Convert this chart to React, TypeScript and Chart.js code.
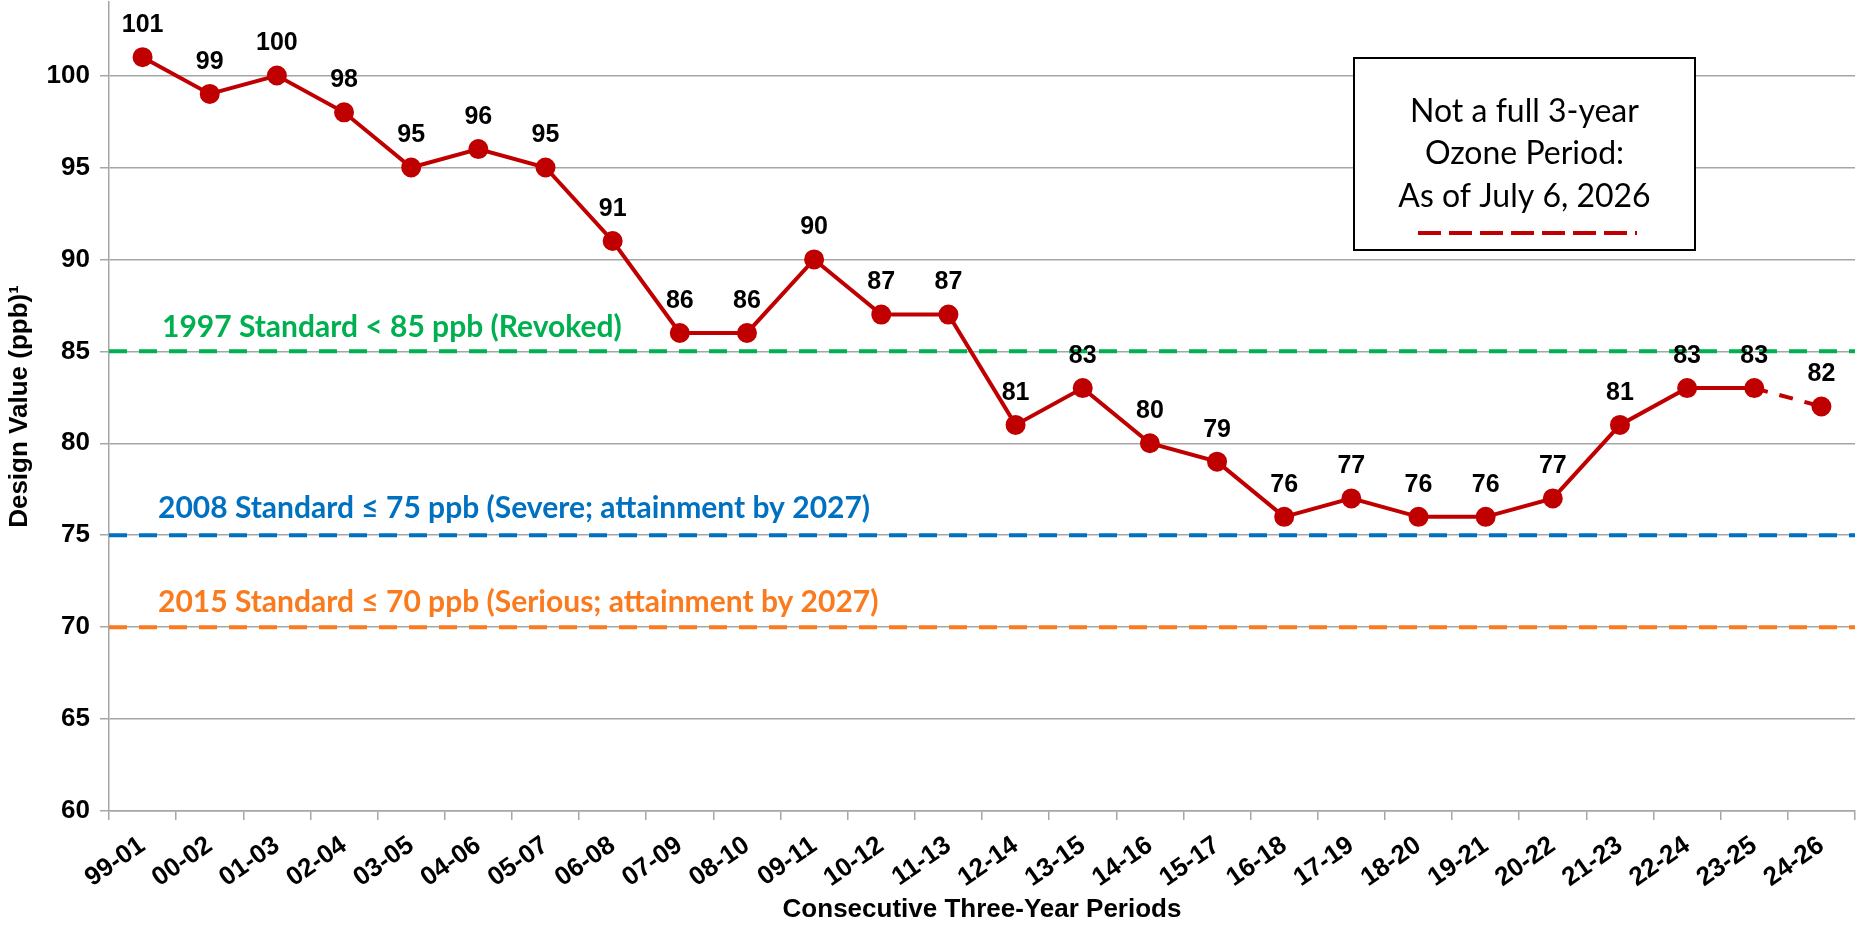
import React, { useEffect, useRef } from 'react';
import { Chart, registerables } from 'chart.js';

Chart.register(...registerables);

const periods = [
  '99-01', '00-02', '01-03', '02-04', '03-05', '04-06', '05-07', '06-08', '07-09', '08-10',
  '09-11', '10-12', '11-13', '12-14', '13-15', '14-16', '15-17', '16-18', '17-19', '18-20',
  '19-21', '20-22', '21-23', '22-24', '23-25', '24-26',
];
const designValues = [
  101, 99, 100, 98, 95, 96, 95, 91, 86, 86,
  90, 87, 87, 81, 83, 80, 79, 76, 77, 76,
  76, 77, 81, 83, 83, 82,
];
const yTickValues = [60, 65, 70, 75, 80, 85, 90, 95, 100];
const standardValues = [85, 75, 70];
const standardLabels = [
  '1997 Standard < 85 ppb (Revoked)',
  '2008 Standard \u2264 75 ppb (Severe; attainment by 2027)',
  '2015 Standard \u2264 70 ppb (Serious; attainment by 2027)',
];
const standardColors = ['#00B050', '#0070C0', '#FA7A1E'];
const noteLines = ['Not a full 3-year', 'Ozone Period:', 'As of July 6, 2026'];
const xTitle = 'Consecutive Three-Year Periods';
const yTitle = 'Design Value (ppb)\u00B9';

const SERIES_COLOR = '#C00000';
const GRID_COLOR = '#A6A6A6';
const ARIAL = '"Liberation Sans", Arial, sans-serif';
const CALIBRI = 'Lato, "Open Sans", sans-serif';

const overlayPlugin = {
  id: 'overlay',
  beforeDatasetsDraw(chart: any) {
    const { ctx, chartArea, scales } = chart;
    const y = scales.y;
    ctx.save();
    standardValues.forEach((v, i) => {
      const py = y.getPixelForValue(v);
      ctx.strokeStyle = standardColors[i];
      ctx.lineWidth = 4;
      ctx.setLineDash([18, 12]);
      ctx.beginPath();
      ctx.moveTo(chartArea.left, py);
      ctx.lineTo(chartArea.right, py);
      ctx.stroke();
    });
    ctx.setLineDash([]);
    const labelOffsets = [24, 27, 25];
    standardLabels.forEach((t, i) => {
      const py = y.getPixelForValue(standardValues[i]);
      ctx.fillStyle = standardColors[i];
      ctx.font = `bold 30px ${CALIBRI}`;
      ctx.textAlign = 'left';
      ctx.textBaseline = 'middle';
      ctx.fillText(t, i === 0 ? 162 : 158, py - labelOffsets[i]);
    });
    ctx.restore();
  },
  afterDatasetsDraw(chart: any) {
    const { ctx } = chart;
    const meta = chart.getDatasetMeta(0);
    ctx.save();
    ctx.fillStyle = '#000';
    ctx.font = `bold 25px ${ARIAL}`;
    ctx.textAlign = 'center';
    ctx.textBaseline = 'middle';
    meta.data.forEach((pt: any, i: number) => {
      ctx.fillText(String(designValues[i]), pt.x, pt.y - 32);
    });

    // note box
    const bx = 1354, by = 58, bw = 341, bh = 192;
    ctx.fillStyle = '#fff';
    ctx.fillRect(bx, by, bw, bh);
    ctx.strokeStyle = '#000';
    ctx.lineWidth = 2;
    ctx.strokeRect(bx, by, bw, bh);
    ctx.fillStyle = '#000';
    ctx.font = `32px ${CALIBRI}`;
    const lineYs = [112, 154, 197];
    noteLines.forEach((t, i) => ctx.fillText(t, bx + bw / 2, lineYs[i]));
    ctx.strokeStyle = SERIES_COLOR;
    ctx.lineWidth = 4;
    ctx.setLineDash([23, 8]);
    ctx.beginPath();
    ctx.moveTo(1418, 233);
    ctx.lineTo(1637, 233);
    ctx.stroke();
    ctx.restore();
  },
};

export default function App() {
  const canvasRef = useRef<HTMLCanvasElement | null>(null);

  useEffect(() => {
    if (!canvasRef.current) return;
    const lastIdx = designValues.length - 1;
    const chart = new Chart(canvasRef.current, {
      type: 'line',
      data: {
        labels: periods,
        datasets: [
          {
            data: designValues,
            borderColor: SERIES_COLOR,
            backgroundColor: SERIES_COLOR,
            borderWidth: 4,
            pointRadius: 8,
            pointHoverRadius: 8,
            pointBackgroundColor: SERIES_COLOR,
            pointBorderColor: SERIES_COLOR,
            tension: 0,
            clip: false,
            segment: {
              borderDash: (c: any) => (c.p1DataIndex === lastIdx ? [14, 12] : undefined),
            },
          },
        ],
      },
      options: {
        animation: false,
        responsive: false,
        maintainAspectRatio: false,
        layout: { autoPadding: false, padding: { top: 2, right: 7, left: 0, bottom: 0 } },
        plugins: {
          legend: { display: false },
          tooltip: { enabled: false },
          title: { display: false },
        },
        scales: {
          x: {
            offset: true,
            grid: {
              offset: true,
              drawOnChartArea: false,
              drawTicks: true,
              tickLength: 9,
              color: GRID_COLOR,
              lineWidth: 1.5,
            },
            border: { color: GRID_COLOR, width: 1.5 },
            ticks: {
              autoSkip: false,
              maxRotation: 35,
              minRotation: 35,
              padding: 10,
              color: '#000',
              font: { family: ARIAL, weight: 'bold', size: 26 },
            },
            title: {
              display: true,
              text: xTitle,
              color: '#000',
              font: { family: ARIAL, weight: 'bold', size: 26 },
              padding: { top: 0, bottom: 0 },
            },
            afterFit: (s: any) => {
              s.height = 114;
              s.paddingLeft = 0;
              s.paddingRight = 0;
            },
          },
          y: {
            min: 60,
            max: 104,
            afterBuildTicks: (s: any) => {
              s.ticks = yTickValues.map((v) => ({ value: v }));
            },
            grid: {
              color: GRID_COLOR,
              lineWidth: 1.5,
              tickLength: 9,
              drawTicks: true,
            },
            border: { color: GRID_COLOR, width: 1.5 },
            ticks: {
              padding: 10,
              color: '#000',
              font: { family: ARIAL, weight: 'bold', size: 26 },
            },
            title: {
              display: true,
              text: yTitle,
              color: '#000',
              font: { family: ARIAL, weight: 'bold', size: 26 },
              padding: { top: 4, bottom: 0 },
            },
            afterFit: (s: any) => {
              s.width = 109;
              s.paddingTop = 0;
              s.paddingBottom = 0;
            },
          },
        },
      },
      plugins: [overlayPlugin],
    } as any);
    return () => chart.destroy();
  }, []);

  return (
    <div style={{ position: 'absolute', left: 0, top: 0, width: 1862, height: 925, background: '#fff' }}>
      <canvas ref={canvasRef} width={1862} height={925} style={{ display: 'block' }} />
    </div>
  );
}
